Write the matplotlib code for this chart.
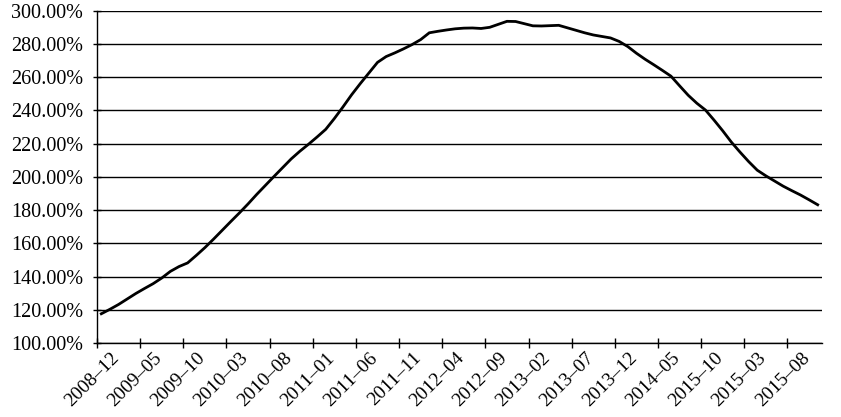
import matplotlib
matplotlib.use("Agg")
import matplotlib.pyplot as plt
import matplotlib.transforms as mtransforms
from matplotlib.ticker import FixedLocator, FuncFormatter

# monthly ratio (%), 2008-12 .. 2015-11
values = [
    117.6, 120.3, 123.2, 126.5, 129.8, 132.8, 135.7, 139.1, 143.1, 146.0,
    148.2, 152.7, 157.4, 162.5, 167.8, 173.1, 178.3, 183.7, 189.4, 194.8,
    200.2, 205.5, 210.8, 215.4, 219.6, 224.0, 228.6, 235.1, 242.1, 249.4,
    256.1, 262.5, 268.9, 272.4, 274.6, 277.0, 279.6, 282.6, 286.7, 287.6,
    288.4, 289.1, 289.5, 289.6, 289.3, 290.0, 291.8, 293.6, 293.5, 292.2,
    290.9, 290.8, 291.0, 291.2, 289.7, 288.2, 286.7, 285.4, 284.5, 283.6,
    281.5, 278.4, 274.4, 270.8, 267.5, 264.1, 260.6, 254.8, 249.1, 244.3,
    240.2, 234.1, 227.7, 220.9, 214.9, 209.2, 204.0, 200.6, 197.5, 194.4,
    191.7, 189.1, 186.2, 183.2,
]

# every 5th month is labelled (labels as printed in the source)
tick_labels = [
    "2008–12", "2009–05", "2009–10", "2010–03", "2010–08", "2011–01",
    "2011–06", "2011–11", "2012–04", "2012–09", "2013–02", "2013–07",
    "2013–12", "2014–05", "2015–10", "2015–03", "2015–08",
]
y_ticks = [100, 120, 140, 160, 180, 200, 220, 240, 260, 280, 300]

plt.rcParams["font.family"] = ["Liberation Serif", "DejaVu Serif"]

fig = plt.figure(figsize=(8.41, 4.17), dpi=100)
ax = fig.add_axes([97 / 841, 1 - 343 / 417, 725 / 841, (343 - 10.7) / 417])

x = list(range(len(values)))
ax.plot(x, values, color="black", lw=2.0, solid_joinstyle="miter")

ax.set_xlim(-0.5, len(values) - 0.5)
ax.set_ylim(100, 300)

# y axis
ax.yaxis.set_major_locator(FixedLocator(y_ticks))
ax.yaxis.set_major_formatter(FuncFormatter(lambda v, p: f"{v:.2f}%"))
ax.grid(axis="y", color="black", lw=1.0)
ax.set_axisbelow(True)
ax.tick_params(axis="y", direction="inout", length=6, width=1.0,
               labelsize=14.5, pad=7)

# x axis: tick marks at category boundaries, labels every 5 months
label_pos = list(range(0, len(values), 5))
ax.xaxis.set_major_locator(FixedLocator([p - 0.5 for p in label_pos]))
ax.xaxis.set_major_formatter(FuncFormatter(lambda v, p: ""))
ax.xaxis.set_minor_locator(FixedLocator(label_pos))
ax.set_xticklabels(tick_labels, minor=True)
ax.tick_params(axis="x", which="major", direction="inout", length=7, width=1.0)
ax.tick_params(axis="x", which="minor", length=0, labelsize=14, pad=9)

offset = mtransforms.ScaledTranslation(15 / 100, 0, fig.dpi_scale_trans)
for lbl in ax.get_xticklabels(minor=True):
    lbl.set_rotation(45)
    lbl.set_rotation_mode("anchor")
    lbl.set_ha("right")
    lbl.set_va("center")
    lbl.set_transform(lbl.get_transform() + offset)

for side in ("top", "right"):
    ax.spines[side].set_visible(False)
for side in ("left", "bottom"):
    ax.spines[side].set_linewidth(1.0)

fig.savefig("out.png", dpi=100)
